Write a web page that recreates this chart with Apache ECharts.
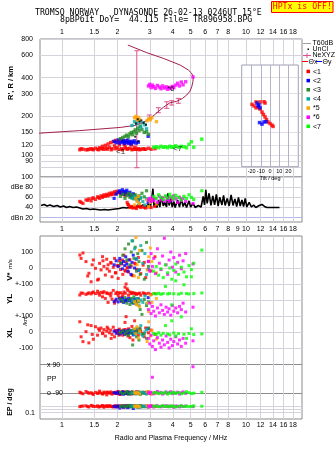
<!DOCTYPE html>
<html><head><meta charset="utf-8">
<script src="https://cdn.jsdelivr.net/npm/echarts@6.0.0/dist/echarts.min.js"></script>
<style>html,body{margin:0;padding:0;background:#fff;}#c{width:335px;height:451px;}</style>
</head><body><div id="c"></div>
<script>
// ---------------- tick labels ----------------
const freqTicksTop = [1, 1.5, 2, 3, 4, 5, 6, 7, 8, 10, 12, 14, 16, 18];
const freqTicksMid = [1, 1.5, 2, 3, 4, 5, 6, 7, 8, 9, 10, 12, 14, 16, 18];
const freqTicksBottom = [1, 1.5, 2, 3, 4, 5, 6, 7, 8, 10, 12, 14, 16, 18];
const heightTicks = [80, 90, 100, 120, 150, 200, 300, 400, 600, 800];
const ampTicks = [20, 40, 60, 80, 100];
const ampTickLabels = ['dBn 20', '40', '60', 'dBe 80', '100'];
const velTicks = [100, 0];
const velTickLabels = ['100', '0'];
const ylTicks = [100, 0, -100];
const ylTickLabels = ['+-100', '0', ''];
const xlTicks = [100, 0, -100];
const xlTickLabels = ['+-100', '0', '-100'];
const ppTicks = [90, 0, -90];
const ppTickLabels = ['x 90', 'PP', 'o -90'];
const epTicks = [10, 1, 0.1];
const epTickLabels = ['10.', '', '0.1'];
const tiltTicks = [-20, -10, 0, 10, 20];
const classNames = ['<1', '<2', '<3', '<4', '*5', '*6', '<7'];

// ---------------- Ne profile (plasma freq MHz, real height km) ----------------
const neF = [0.75, 1.25, 2.07, 2.49, 2.89, 3.2, 3.55, 3.86, 4.2, 4.5, 4.76, 4.97, 5.07, 5.15, 5.17, 5.05, 4.86, 4.38, 3.55, 2.89, 2.28];
const neH = [148, 155, 164, 170, 185, 207, 235, 255, 262, 275, 293, 315, 340, 375, 407, 435, 459, 502, 566, 626, 718];
const neBarF = [2.55, 2.98, 3.34, 3.71, 3.95, 4.29];
const neBarLo = [79.7, 190, 213.6, 231, 245, 253];
const neBarHi = [648, 205, 233.5, 260, 265, 276];

// ---------------- echoes per class ----------------
const redF = [1.25,1.30,1.35,1.40,1.44,1.48,1.52,1.56,1.60,1.63,1.66,1.69,1.72,1.75,1.78,1.81,1.84,1.87,1.90,1.93,1.96,1.99,2.02,2.05,2.08,2.11,2.14,2.17,2.20,2.23,2.26,2.30,2.34,2.38,2.43,2.48,2.54,2.60,2.68,2.76,2.85,2.95,3.05,3.20,
  1.27,1.38,1.46,1.58,1.67,1.76,1.85,1.95,2.04,2.13,2.21,2.28,2.40,2.51,2.64,2.80];
const redH = [110,111,110,111,112,110,113,111,114,112,117,111,119,113,122,115,125,112,127,118,130,114,126,120,132,112,128,122,116,129,111,124,113,120,111,115,111,112,111,112,111,113,111,112,
  112,110,111,110,112,111,110,112,111,110,113,112,110,111,110,111];
const redA = [52,48,55,57,53,59,56,61,58,63,60,65,62,66,63,68,65,69,66,71,68,72,69,71,67,70,66,69,64,67,50,45,40,42,39,41,38,43,40,42,39,41,40,42,
  50,54,58,60,62,64,66,68,70,68,66,46,41,40,42,40];
const redV = [81,94,40,-33,-86,50,-2,-75,29,-12,71,10,-44,55,20,-20,35,-55,5,60,-30,15,-65,45,-10,25,-40,80,-15,38,0,-25,52,12,-48,30,-8,66,-35,18,-60,42,-18,70,
  60,-50,20,-70,45,-5,30,-30,15,50,-20,5,-45,25,-10,35];
const redYL = [31,42,35,45,38,50,40,55,30,48,20,52,10,45,-15,38,25,5,60,-20,40,48,30,15,45,-10,35,50,80,100,70,30,50,40,45,42,35,40,30,45,38,42,35,40,
  44,40,46,42,45,41,43,-5,44,20,42,60,45,41,43,40];
const redXL = [64,-60,2,-68,40,-45,33,-20,10,25,-10,15,-25,5,20,-5,12,-15,30,-30,8,0,-8,18,-12,6,-20,14,60,96,-8,20,-35,10,-50,70,15,-20,5,-10,25,-5,12,-15,
  -30,45,-15,20,-5,30,-40,10,-20,5,15,-25,35,-10,20,-30];
const redPP = [-85,-95,-80,-92,-88,-100,-86,-93,-78,-90,-96,-84,-89,-102,-87,-91,-83,-97,-88,-92,-85,-94,-80,-90,-99,-86,-93,-82,-91,-88,-95,-84,-90,-97,-87,-92,-81,-89,-94,-86,-91,-83,-96,-88,
  -90,-87,-93,-89,-95,-84,-91,-88,-96,-86,-92,-89,-83,-94,-90,-87];
const redEP = [8,12,15,6,20,10,9,14,7,11,18,5,13,10,8,16,12,9,6,11,14,10,7,13,9,15,8,12,10,6,17,11,9,13,8,10,12,7,14,9,11,8,13,10,
  11,9,13,7,10,15,8,12,10,6,14,9,11,13,7,10];

const blueF = [1.92,1.97,2.02,2.06,2.10,2.13,2.16,2.19,2.22,2.25,2.28,2.31,2.34,2.37,2.40,2.44,2.48,2.53,2.60,2.94];
const blueH = [128,125,131,124,129,126,130,123,128,125,131,124,127,122,128,125,129,124,126,140];
const blueA = [58,66,70,73,68,75,71,66,72,74,69,65,70,62,60,67,64,58,55,50];
const blueV = [20,45,10,60,30,-5,40,15,70,25,-20,50,5,-40,35,80,0,55,-15,-10];
const blueYL = [-10,5,-12,8,-5,12,-15,0,-8,6,-3,10,-6,2,-12,-20,4,-9,7,15];
const blueXL = [5,-8,10,-12,2,-5,8,-15,0,6,-10,12,-3,4,-6,-18,9,-2,3,20];
const bluePP = [-88,-92,-85,-95,-90,-82,-98,-87,-93,-90,-84,-96,-89,-91,-86,-94,-88,-92,-85,-90];
const blueEP = [10,6,14,3,9,12,5,11,8,13,4,10,7,15,9,2,11,8,12,6];

const dgreenF = [2.08,2.14,2.20,2.25,2.30,2.34,2.38,2.42,2.46,2.50,2.54,2.58,2.62,2.66,2.72,2.80,2.88,2.95];
const dgreenH = [134,137,140,143,139,146,150,144,152,157,148,162,155,168,158,150,152,145];
const dgreenA = [62,66,58,64,68,60,66,62,57,65,60,55,63,58,68,61,73,56];
const dgreenV = [30,80,120,50,150,20,100,170,60,130,-20,90,40,-40,110,-70,160,10];
const dgreenYL = [5,-10,15,-20,0,-28,10,-15,20,-5,-25,8,-12,-60,-90,3,-35,-12];
const dgreenXL = [-5,8,-12,3,-20,10,-8,-81,15,-3,-30,5,-50,20,-15,-10,-40,25];
const dgreenPP = [-86,-94,-90,-80,-97,-88,-92,-84,-90,-95,-87,-91,-83,-99,-89,-93,-85,-90];
const dgreenEP = [9,14,7,11,20,8,12,6,16,10,13,5,9,18,11,7,12,10];

const tealF = [2.40,2.48,2.55,2.62,2.68,2.75,2.82,2.88];
const tealH = [170,182,176,185,165,178,172,160];
const tealA = [58,62,55,48,60,52,45,57];
const tealV = [170,120,60,-10,140,30,90,-40];
const tealYL = [-5,-20,10,-35,0,-15,25,-25];
const tealXL = [10,-15,25,-5,40,-25,0,15];
const tealPP = [-91,-86,-95,-89,-93,-84,-90,-97];
const tealEP = [11,7,15,9,5,13,10,8];

const orangeF = [2.48,2.52,2.56,2.60,2.64,2.90,2.96,3.02,3.08,3.26];
const orangeH = [195,200,188,196,190,185,192,188,195,182];
const orangeA = [45,58,52,62,48,55,42,50,56,47];
const orangeV = [-50,190,20,-60,110,-12,70,125,40,-30];
const orangeYL = [-10,-25,-31,-5,-40,-20,-73,30,-15,10];
const orangeXL = [20,-10,33,-38,5,-60,64,-25,10,-45];
const orangePP = [-88,-93,-85,-90,-96,-82,-91,-87,-94,-89];
const orangeEP = [10,14,7,12,9,16,6,11,13,8];

const magentaF = [2.95,3.00,3.05,3.10,3.15,3.22,3.30,3.38,3.45,3.52,3.60,3.68,3.75,3.82,3.90,3.98,4.05,4.15,4.25,4.35,4.45,4.55,4.70,5.15];
const magentaH = [345,355,335,350,340,330,348,338,328,345,332,340,325,336,330,342,335,350,362,345,370,352,372,405];
const magentaA = [55,58,52,60,54,57,50,62,55,59,53,61,56,52,60,55,63,57,50,60,54,58,52,48];
const magentaV = [40,-20,90,10,60,-35,120,30,-10,75,186,20,-40,50,100,5,65,-25,35,80,-5,45,90,25];
const magentaYL = [-60,-20,-85,-40,-70,-100,-50,-80,-30,-65,-90,-45,-75,-55,-95,-35,-70,-50,-80,-40,-60,-20,-75,-45];
const magentaXL = [-40,-75,-20,-90,-55,-110,-35,-70,-95,-50,-80,-25,-65,-100,-45,-85,-60,-30,-75,-50,-90,-40,-70,-55];
const magentaPP = [-88,-92,-85,10,-95,-89,-80,-91,-86,-97,-90,-84,-93,-88,-82,-94,-87,-91,-85,-96,-89,-83,-92,77];
const magentaEP = [12,8,15,10,6,11,14,9,7,13,10,16,8,12,9,11,5,13,10,7,14,9,12,8];

const greenF = [3.15,3.25,3.35,3.45,3.55,3.65,3.75,3.85,3.95,4.05,4.15,4.30,4.45,4.60,4.75,4.90,5.05,5.20,5.75];
const greenH = [115,116,114,117,115,116,114,117,115,116,118,115,117,116,114,121,127,115,133];
const greenA = [62,58,65,60,56,63,59,66,61,57,64,60,55,62,58,65,60,56,73];
const greenV = [-20,10,-45,-5,-60,20,-30,0,-70,-15,25,-40,5,-25,-55,15,-10,30,112];
const greenYL = [40,38,42,36,40,85,38,41,-30,39,120,37,42,95,40,38,145,40,44];
const greenXL = [-10,-15,-5,-20,-8,40,-12,-18,70,-6,-25,-10,95,-14,-40,-9,20,-16,-12];
const greenPP = [-90,-86,-94,-88,-92,-84,-97,-89,-91,-85,-93,-87,-95,-90,-82,-88,-94,-91,-86];
const greenEP = [10,13,8,11,15,9,12,7,14,10,6,11,13,9,12,8,10,14,11];

// unclassified echoes and class tags in the height panel
const unclF = [2.52,2.58,2.64,2.70,2.78,2.86,2.50,2.60];
const unclH = [176,190,182,186,178,172,139,128];
const tagF = [2.08, 4.25, 3.9];
const tagH = [106, 112, 330];
const tagText = ['<1', '<7', '*6'];

// amplitude trace (noise / sounding level), dB
const noiseF = [0.77,0.80,0.83,0.86,0.90,0.94,0.98,1.02,1.06,1.10,1.15,1.20,1.25,1.30,1.36,1.42,1.48,1.55,1.62,1.70,1.78,1.86,1.95,2.05,2.15,2.25,2.35,2.45,2.55,2.65,2.75,2.85,2.95,3.02,3.08,3.12,3.16,3.22,3.28,3.35,3.40,3.48,3.55,3.62,3.70,3.76,3.82,3.90,3.97,4.05,4.12,4.25,4.35,4.45,4.55,4.65,4.75,4.90,5.00,5.15,5.30,5.50,5.70,5.85,5.95,6.05,6.15,6.30,6.45,6.60,6.75,6.90,7.05,7.20,7.40,7.55,7.70,7.90,8.10,8.30,8.50,8.70,8.90,9.10,9.30,9.50,9.70,9.90,10.1,10.4,10.7,11.0,11.3,11.8,12.2,12.6,13.0,14.0,15.2];
const noiseDb = [44,46,43,45,42,44,41,43,40,42,40,41,39,37,38,36,37,36,35,36,35,36,37,38,40,39,41,40,43,40,45,41,47,40,60,77,42,48,40,55,41,62,43,50,41,68,44,57,41,52,40,55,41,58,42,50,40,53,41,48,40,44,41,62,45,75,48,68,44,63,45,66,43,60,45,64,44,58,43,65,44,57,42,60,43,55,42,58,41,50,41,45,40,44,46,42,40,40,40];

// tilt inset
const tiltRedX = [-15.2,-10.9,-6.5,-5.4,-19.6,-17.4,-15.2,-12.7,-10.9,-8.7,-7.1,-5.4,-3.8,-2.2,0,2.2,3.3];
const tiltRedH = [259,259,260,254,248,241,233,236,228,216,207,198,189,181,176,171,167];
const tiltBlueX = [-14.1,-12,-13,-10.9,-11.4,-8.7,-6.5,-4.3];
const tiltBlueH = [254,246,241,233,179,174,181,182];

// ---------------- build ----------------
const lg = Math.log10;
const idf = v => v;
const FONT = 'Liberation Sans';
const GRID_C = '#d6d2dc';
const FRAME_C = '#8a8a8a';
const NE_C = '#a3204a';
const NE_BAR_C = '#e0508c';
const classColors = ['#ff0000', '#0000ff', '#228b22', '#00aaaa', '#ffa500', '#ff00ff', '#00ff00'];
const classes = [
  {f: redF, h: redH, a: redA, v: redV, yl: redYL, xl: redXL, pp: redPP, ep: redEP},
  {f: blueF, h: blueH, a: blueA, v: blueV, yl: blueYL, xl: blueXL, pp: bluePP, ep: blueEP},
  {f: dgreenF, h: dgreenH, a: dgreenA, v: dgreenV, yl: dgreenYL, xl: dgreenXL, pp: dgreenPP, ep: dgreenEP},
  {f: tealF, h: tealH, a: tealA, v: tealV, yl: tealYL, xl: tealXL, pp: tealPP, ep: tealEP},
  {f: orangeF, h: orangeH, a: orangeA, v: orangeV, yl: orangeYL, xl: orangeXL, pp: orangePP, ep: orangeEP},
  {f: magentaF, h: magentaH, a: magentaA, v: magentaV, yl: magentaYL, xl: magentaXL, pp: magentaPP, ep: magentaEP},
  {f: greenF, h: greenH, a: greenA, v: greenV, yl: greenYL, xl: greenXL, pp: greenPP, ep: greenEP}
];

function lookup(vals, labels, tf) {
  return function (v) {
    for (let i = 0; i < vals.length; i++) if (Math.abs(tf(vals[i]) - v) < 1e-6) return labels[i];
    return '';
  };
}
const lbl = (extra) => Object.assign({fontFamily: FONT, fontSize: 7, color: '#000'}, extra || {});

const L = 40, W = 262;
const grids = [
  {left: L, top: 39, width: W, height: 138, show: true, borderColor: FRAME_C, borderWidth: 1},   // 0 heights
  {left: L, top: 177, width: W, height: 45, show: true, borderColor: FRAME_C, borderWidth: 1},   // 1 amplitude
  {left: L, top: 236, width: W, height: 183, show: true, borderColor: FRAME_C, borderWidth: 1},  // 2 lower frame
  {left: L, top: 236, width: W, height: 64},   // 3 V*
  {left: L, top: 268, width: W, height: 64},   // 4 YL
  {left: L, top: 300, width: W, height: 64},   // 5 XL
  {left: L, top: 364.7, width: W, height: 28.3}, // 6 PP
  {left: L, top: 400, width: W, height: 19},   // 7 EP
  {left: 241.7, top: 65, width: 56.6, height: 101.7, show: true, backgroundColor: '#fff', borderColor: '#a0a0b4', borderWidth: 1, z: 5} // 8 tilt
];

const xMin = lg(0.7594), xMax = lg(20.15);
function fx(gi, extra) {
  return Object.assign({type: 'value', gridIndex: gi, min: xMin, max: xMax,
    axisLine: {show: false}, axisTick: {show: false}, axisLabel: {show: false}, splitLine: {show: false}}, extra || {});
}
const vGrid = {show: true, lineStyle: {color: GRID_C, width: 1}};
const xAxes = [
  fx(0, {position: 'top', axisTick: {show: false, customValues: freqTicksTop.map(lg)},
    axisLabel: lbl({show: true, margin: 3, customValues: freqTicksTop.map(lg), formatter: lookup(freqTicksTop, freqTicksTop.map(String), lg)}),
    splitLine: vGrid}),
  fx(1, {position: 'bottom', axisTick: {show: false, customValues: freqTicksTop.map(lg)},
    axisLabel: lbl({show: true, margin: 4, customValues: freqTicksMid.map(lg), formatter: lookup(freqTicksMid, freqTicksMid.map(String), lg)}),
    splitLine: vGrid}),
  fx(2, {position: 'bottom', axisTick: {show: false, customValues: freqTicksTop.map(lg)},
    axisLabel: lbl({show: true, margin: 3, customValues: freqTicksBottom.map(lg), formatter: lookup(freqTicksBottom, freqTicksBottom.map(String), lg)}),
    splitLine: vGrid,
    name: 'Radio and Plasma Frequency / MHz', nameLocation: 'middle', nameGap: 16,
    nameTextStyle: {fontFamily: FONT, fontSize: 7, color: '#000'}}),
  fx(3), fx(4), fx(5), fx(6), fx(7),
  {type: 'value', gridIndex: 8, min: -30.8, max: 30.8, z: 5,
    axisLine: {show: false}, axisTick: {show: false, customValues: tiltTicks},
    axisLabel: lbl({show: true, fontSize: 5.5, margin: 1.5, customValues: tiltTicks}),
    splitLine: {show: true, lineStyle: {color: '#b4b4c8', width: 1}},
    name: 'Tilt / deg', nameLocation: 'middle', nameGap: 8,
    nameTextStyle: {fontFamily: FONT, fontSize: 5.5, color: '#000'}}
];

function fy(gi, min, max, ticks, labels, tf, extra) {
  const o = {type: 'value', gridIndex: gi, min: min, max: max,
    axisLine: {show: false},
    axisTick: {show: false, customValues: ticks.map(tf)},
    axisLabel: lbl({show: true, margin: 7, customValues: ticks.map(tf), formatter: lookup(ticks, labels, tf)}),
    splitLine: {show: true, lineStyle: {color: GRID_C, width: 1}}};
  return Object.assign(o, extra || {});
}
const yAxes = [
  fy(0, lg(67.5), lg(800), heightTicks, heightTicks.map(String), lg),
  fy(1, 11.5, 100, ampTicks, ampTickLabels, idf,
    {splitLine: {show: true, lineStyle: {color: ['#b4b8ec', GRID_C, GRID_C, GRID_C, GRID_C], width: 1}}}),
  {type: 'value', gridIndex: 2, min: 0, max: 1, show: false},
  fy(3, -200, 200, velTicks, velTickLabels, idf),
  fy(4, -200, 200, ylTicks, ylTickLabels, idf),
  fy(5, -200, 200, xlTicks, xlTickLabels, idf),
  fy(6, -90, 90, ppTicks, ppTickLabels, idf, {
    axisTick: {show: false, customValues: [90, -90]},
    axisLabel: lbl({show: true, inside: true, margin: 7, customValues: ppTicks, formatter: lookup(ppTicks, ppTickLabels, idf)}),
    splitLine: {show: true, lineStyle: {color: '#8c8c8c', width: 1}}}),
  fy(7, -3, 3, epTicks, epTickLabels, lg, {axisLabel: lbl({show: true, margin: 5, customValues: [lg(10), lg(0.1)], formatter: lookup(epTicks, epTickLabels, lg)})}),
  {type: 'value', gridIndex: 8, min: lg(81.2), max: lg(502), z: 5,
    axisLine: {show: false}, axisLabel: {show: false},
    axisTick: {show: false, customValues: heightTicks.filter(h => h > 82 && h < 500).map(lg)},
    splitLine: {show: true, lineStyle: {color: '#e2dee8', width: 1}}}
];

const series = [];
series.push({type: 'line', xAxisIndex: 0, yAxisIndex: 0, data: neF.map((f, i) => [lg(f), lg(neH[i])]),
  symbol: 'none', lineStyle: {color: NE_C, width: 1}, z: 3, silent: true});
series.push({type: 'custom', xAxisIndex: 0, yAxisIndex: 0, z: 3, silent: true,
  data: neBarF.map((f, i) => [lg(f), lg(neBarLo[i]), lg(neBarHi[i])]),
  renderItem: function (params, api) {
    const lo = api.coord([api.value(0), api.value(1)]);
    const hi = api.coord([api.value(0), api.value(2)]);
    const w = 2.5, st = {stroke: NE_BAR_C, lineWidth: 1};
    return {type: 'group', children: [
      {type: 'line', shape: {x1: lo[0], y1: lo[1], x2: hi[0], y2: hi[1]}, style: st},
      {type: 'line', shape: {x1: lo[0] - w, y1: lo[1], x2: lo[0] + w, y2: lo[1]}, style: st},
      {type: 'line', shape: {x1: hi[0] - w, y1: hi[1], x2: hi[0] + w, y2: hi[1]}, style: st}
    ]};
  }});
series.push({type: 'line', xAxisIndex: 1, yAxisIndex: 1, data: noiseF.map((f, i) => [lg(f), noiseDb[i]]),
  symbol: 'none', lineStyle: {color: '#000', width: 1.6}, z: 3, silent: true});

classes.forEach(function (c, k) {
  const sc = (xi, vals, tf, size) => ({type: 'scatter', xAxisIndex: xi, yAxisIndex: xi,
    data: c.f.map((f, i) => [lg(f), tf(vals[i])]), symbol: 'rect', symbolSize: size || 3,
    itemStyle: {color: classColors[k]}, clip: false, z: 4, silent: true});
  series.push(sc(0, c.h, lg, 3.4), sc(1, c.a, idf, 3.2), sc(3, c.v, idf), sc(4, c.yl, idf), sc(5, c.xl, idf), sc(6, c.pp, idf), sc(7, c.ep, lg));
});
series.push({type: 'scatter', xAxisIndex: 0, yAxisIndex: 0, data: unclF.map((f, i) => [lg(f), lg(unclH[i])]),
  symbol: 'rect', symbolSize: 2, itemStyle: {color: '#000'}, z: 5, silent: true});
series.push({type: 'scatter', xAxisIndex: 0, yAxisIndex: 0, data: tagF.map((f, i) => [lg(f), lg(tagH[i]), tagText[i]]),
  symbolSize: 0, z: 6, silent: true,
  label: {show: true, position: 'inside', formatter: p => p.data[2], fontFamily: FONT, fontSize: 8, color: '#000'}});
series.push({type: 'scatter', xAxisIndex: 8, yAxisIndex: 8, data: tiltRedX.map((t, i) => [t, lg(tiltRedH[i])]),
  symbol: 'rect', symbolSize: 3.5, itemStyle: {color: '#ff0000'}, z: 7, silent: true});
series.push({type: 'scatter', xAxisIndex: 8, yAxisIndex: 8, data: tiltBlueX.map((t, i) => [t, lg(tiltBlueH[i])]),
  symbol: 'rect', symbolSize: 3.5, itemStyle: {color: '#0000ff'}, z: 8, silent: true});

// ---------------- graphics: titles, legend, axis titles ----------------
const MONO = '"DejaVu Sans Mono"';
const g = [];
g.push({type: 'text', x: 35, y: 12.5, style: {text: 'TROMSO NORWAY   DYNASONDE 26-02-13 0246UT 15°E', font: '8.2px ' + MONO, fill: '#000', verticalAlign: 'middle'}});
g.push({type: 'text', x: 60, y: 20, style: {text: '8pBP6It DoY=  44.115 File= TR896958.BPG', font: '8.2px ' + MONO, fill: '#000', verticalAlign: 'middle'}});
g.push({type: 'rect', shape: {x: 271.5, y: 1.5, width: 61.5, height: 11}, style: {fill: '#ffff00', stroke: '#ff0000', lineWidth: 1}});
g.push({type: 'text', x: 302.3, y: 7.3, style: {text: 'HPTx is OFF!', font: '8.2px ' + MONO, fill: '#ff0000', align: 'center', verticalAlign: 'middle'}});

const lt = (x, y, t) => ({type: 'text', x: x, y: y, style: {text: t, fontFamily: FONT, fontSize: 7, fill: '#000', verticalAlign: 'middle'}});
g.push({type: 'line', shape: {x1: 303, y1: 43.5, x2: 311, y2: 43.5}, style: {stroke: '#a0a0a0', lineWidth: 1}});
g.push(lt(312.5, 43.5, 'T60dB'));
g.push({type: 'rect', shape: {x: 307.5, y: 48.5, width: 1.5, height: 1.5}, style: {fill: '#000'}});
g.push(lt(312.5, 49.5, 'UnCl'));
g.push({type: 'line', shape: {x1: 303, y1: 55.5, x2: 311, y2: 55.5}, style: {stroke: NE_BAR_C, lineWidth: 1}});
g.push({type: 'line', shape: {x1: 307, y1: 53, x2: 307, y2: 58}, style: {stroke: NE_BAR_C, lineWidth: 1}});
g.push(lt(312.5, 55.5, 'NeXYZ'));
g.push({type: 'line', shape: {x1: 302, y1: 61.5, x2: 308, y2: 61.5}, style: {stroke: '#ff0000', lineWidth: 1}});
g.push(lt(308.5, 62, 'Θx'));
g.push({type: 'line', shape: {x1: 316, y1: 61.5, x2: 322, y2: 61.5}, style: {stroke: '#0000ff', lineWidth: 1}});
g.push(lt(322.5, 62, 'Θy'));
classNames.forEach(function (n, k) {
  const y = 71.7 + k * 9.15;
  g.push({type: 'rect', shape: {x: 306.5, y: y - 2, width: 3.5, height: 3.5}, style: {fill: classColors[k]}});
  g.push(lt(313, y, n));
});

const rt = (x, y, t, size, weight) => ({type: 'text', x: x, y: y, rotation: Math.PI / 2,
  style: {text: t, fontFamily: FONT, fontSize: size, fontWeight: weight || 'normal', fill: '#000', align: 'center', verticalAlign: 'middle'}});
g.push(rt(11, 83, "R', R / km", 7.5, 'bold'));
g.push({type: 'text', x: 10, y: 270, rotation: Math.PI / 2,
  style: {text: '{a|V*} {b|m/s}', rich: {a: {fontFamily: FONT, fontSize: 8, fontWeight: 'bold', fill: '#000'}, b: {fontFamily: FONT, fontSize: 6, fill: '#000'}}, align: 'center', verticalAlign: 'middle'}});
g.push(rt(10, 299, 'YL', 8, 'bold'));
g.push(rt(25, 321, '/km', 6));
g.push(rt(10, 333, 'XL', 8, 'bold'));
g.push(rt(10, 402, 'EP / deg', 7, 'bold'));

const chart = echarts.init(document.getElementById('c'), null, {renderer: 'canvas'});
chart.setOption({
  animation: false,
  backgroundColor: '#fff',
  textStyle: {fontFamily: FONT},
  grid: grids,
  xAxis: xAxes,
  yAxis: yAxes,
  series: series,
  graphic: {elements: g}
});
</script>
</body></html>
